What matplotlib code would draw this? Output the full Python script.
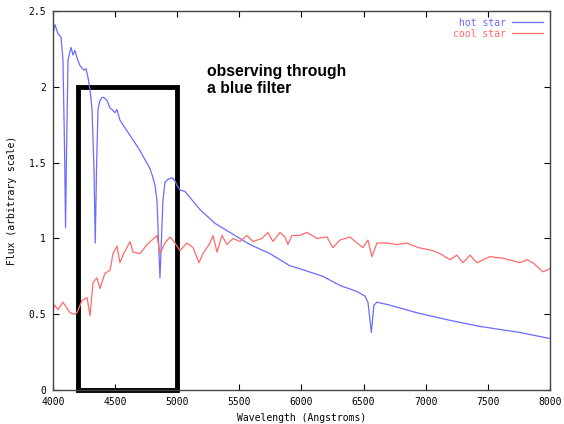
import matplotlib
matplotlib.use('Agg')
import matplotlib.pyplot as plt
from matplotlib.patches import Rectangle

# hot star spectrum
hot_wl = [4000, 4016, 4040, 4064, 4080, 4093, 4101, 4109, 4121, 4145, 4161, 4177, 4193,
          4217, 4249, 4266, 4282, 4298, 4314, 4330, 4340, 4350, 4362, 4378, 4394, 4410,
          4435, 4459, 4475, 4499, 4515, 4539, 4579, 4620, 4660, 4700, 4740, 4781, 4805,
          4821, 4837, 4861, 4885, 4901, 4925, 4958, 4982, 4998, 5022, 5062, 5103, 5143,
          5183, 5223, 5264, 5304, 5344, 5424, 5585, 5746, 5907, 5988, 6173, 6310, 6447,
          6511, 6535, 6563, 6583, 6608, 6712, 6929, 7195, 7436, 7758, 8000]
hot_flux = [2.35, 2.41, 2.35, 2.33, 2.18, 1.58, 1.07, 1.58, 2.18, 2.26, 2.21, 2.24, 2.19,
            2.14, 2.11, 2.12, 2.06, 1.98, 1.85, 1.45, 0.97, 1.45, 1.85, 1.91, 1.93, 1.93,
            1.91, 1.86, 1.85, 1.83, 1.85, 1.78, 1.73, 1.68, 1.63, 1.58, 1.52, 1.46, 1.40,
            1.35, 1.25, 0.74, 1.25, 1.37, 1.39, 1.40, 1.38, 1.35, 1.32, 1.31, 1.27, 1.23,
            1.19, 1.16, 1.13, 1.10, 1.08, 1.04, 0.96, 0.90, 0.82, 0.80, 0.75, 0.69, 0.65,
            0.62, 0.58, 0.38, 0.56, 0.58, 0.56, 0.51, 0.46, 0.42, 0.38, 0.34]

# cool star spectrum
cool_wl = [4000, 4016, 4040, 4080, 4137, 4177, 4193, 4233, 4274, 4298, 4322, 4354, 4378,
           4418, 4459, 4483, 4515, 4539, 4563, 4620, 4644, 4700, 4757, 4837, 4861, 4901,
           4942, 4982, 5022, 5078, 5127, 5175, 5207, 5264, 5288, 5320, 5360, 5400, 5449,
           5505, 5561, 5610, 5682, 5730, 5771, 5827, 5867, 5891, 5923, 5988, 6044, 6125,
           6205, 6253, 6310, 6390, 6447, 6495, 6535, 6567, 6608, 6688, 6769, 6849, 6938,
           7058, 7115, 7195, 7251, 7300, 7356, 7412, 7517, 7622, 7758, 7815, 7863, 7944, 8000]
cool_flux = [0.53, 0.56, 0.53, 0.58, 0.51, 0.50, 0.51, 0.59, 0.61, 0.49, 0.71, 0.74, 0.67,
             0.77, 0.79, 0.90, 0.95, 0.84, 0.89, 0.98, 0.91, 0.90, 0.96, 1.02, 0.90, 0.97,
             1.01, 0.97, 0.92, 0.97, 0.94, 0.84, 0.90, 0.97, 1.02, 0.91, 1.02, 0.96, 1.00,
             0.98, 1.02, 0.98, 1.00, 1.04, 0.98, 1.04, 1.01, 0.96, 1.02, 1.02, 1.04, 1.00,
             1.01, 0.94, 0.99, 1.01, 0.97, 0.94, 0.99, 0.88, 0.97, 0.97, 0.96, 0.97, 0.94,
             0.92, 0.90, 0.86, 0.89, 0.84, 0.89, 0.84, 0.88, 0.87, 0.84, 0.86, 0.84, 0.78, 0.80]

xticks = [4000, 4500, 5000, 5500, 6000, 6500, 7000, 7500, 8000]
yticks = [0, 0.5, 1, 1.5, 2, 2.5]

mono = 'DejaVu Sans Mono'

fig = plt.figure(figsize=(5.64, 4.24), dpi=100)
ax = fig.add_axes([0.094, 0.080, 0.881, 0.894])

ax.plot(hot_wl, hot_flux, color='#6b6bff', lw=0.9, label='hot star')
ax.plot(cool_wl, cool_flux, color='#ff6b6b', lw=0.9, label='cool star')

# the blue filter box
ax.add_patch(Rectangle((4200, 0), 800, 2.0, fill=False, lw=3.5, ec='black', clip_on=False))
ax.text(5240, 2.15, 'observing through\na blue filter', fontsize=11.3, fontweight='bold',
        family='Liberation Sans', va='top', ha='left', linespacing=1.15)

ax.set_xlim(4000, 8000)
ax.set_ylim(0, 2.5)
ax.set_xticks(xticks)
ax.set_yticks(yticks)
ax.set_yticklabels(['%g' % v for v in yticks])
ax.tick_params(direction='in', length=4, top=True, right=True, labelsize=7, pad=5)
for lab in ax.get_xticklabels() + ax.get_yticklabels():
    lab.set_family(mono)
for s in ax.spines.values():
    s.set_color('#444444')
    s.set_linewidth(1)

ax.set_xlabel('Wavelength (Angstroms)', family=mono, fontsize=7, labelpad=4)
ax.set_ylabel('Flux (arbitrary scale)', family=mono, fontsize=7, labelpad=8)

leg = ax.legend(loc='upper right', frameon=False, markerfirst=False, labelcolor='linecolor',
                prop={'family': mono, 'size': 7}, handlelength=3.2, borderaxespad=0.3,
                labelspacing=0.1, handletextpad=0.6)

fig.savefig('out.png', dpi=100)
